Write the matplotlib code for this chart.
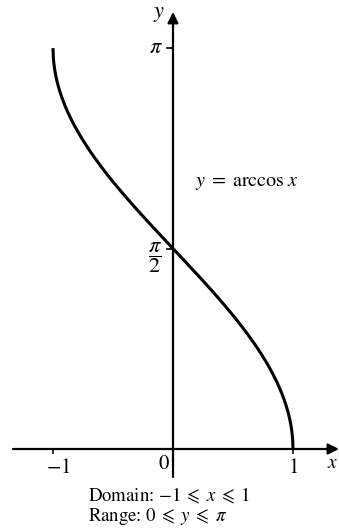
import numpy as np
import matplotlib.pyplot as plt

plt.rcParams['mathtext.fontset'] = 'stix'
plt.rcParams['font.family'] = ['STIXGeneral', 'DejaVu Sans']

# data: y = arccos x on its domain
x_vals = np.linspace(-1, 1, 801)
y_vals = np.arccos(x_vals)

x_ticks = [-1, 1]
x_tick_labels = [r'$-1$', r'$1$']
y_ticks = [np.pi / 2, np.pi]
y_tick_labels = [r'$\dfrac{\pi}{2}$', r'$\pi$']

fig = plt.figure(figsize=(3.39, 5.29), dpi=100)
ax = fig.add_axes([0, 0, 1, 1])
# pixel mapping: x=0 at 173px, 120px per unit; y=0 at 449px, 127.6px per unit
ax.set_xlim(-173 / 120, (339 - 173) / 120)
ax.set_ylim((449 - 529) / 127.6, 449 / 127.6)
ax.axis('off')

arrow = dict(arrowstyle='-|>', lw=1.6, color='black', mutation_scale=16,
             shrinkA=0, shrinkB=0)
ax.annotate('', xy=(1.383, 0), xytext=(-1.333, 0), arrowprops=arrow)
ax.annotate('', xy=(0, 3.425), xytext=(0, -0.219), arrowprops=arrow)

ax.plot(x_vals, y_vals, color='black', lw=2.2, solid_capstyle='butt')

# ticks
for t, lab in zip(x_ticks, x_tick_labels):
    ax.plot([t, t], [0, -0.035], color='black', lw=1.2)
    ax.text(t + 0.04 * (t < 0), -0.07, lab, ha='center', va='top', fontsize=15)
ax.text(-0.03, -0.04, r'$0$', ha='right', va='top', fontsize=15)
for t, lab in zip(y_ticks, y_tick_labels):
    ax.plot([0, -0.05], [t, t], color='black', lw=1.2)
ax.text(-0.08, np.pi, y_tick_labels[1], ha='right', va='center', fontsize=16)
ax.text(-0.09, np.pi / 2 - 0.07, y_tick_labels[0], ha='right', va='center',
        fontsize=16)

ax.text(-0.07, 3.41, r'$y$', ha='right', va='center', fontsize=16)
ax.text(1.33, -0.11, r'$x$', ha='center', va='center', fontsize=14)

ax.text(0.18, 2.08, r'$y\;=\;\mathrm{arccos}\;x$', ha='left', va='center',
        fontsize=14.5)

ax.text(-0.71, -0.365, r'Domain: $-1\;\leqslant\;x\;\leqslant\;1$', ha='left',
        va='center', fontsize=13.5)
ax.text(-0.71, -0.53, r'Range: $0\;\leqslant\;y\;\leqslant\;\pi$', ha='left',
        va='center', fontsize=13.5)

fig.savefig('out.png', dpi=100)
